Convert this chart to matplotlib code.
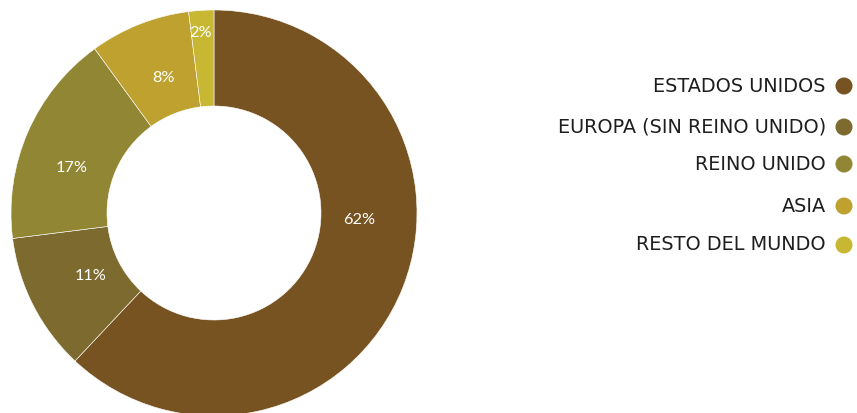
import matplotlib
matplotlib.use("Agg")
import matplotlib.pyplot as plt
import numpy as np

categories = ["ESTADOS UNIDOS", "EUROPA (SIN REINO UNIDO)", "REINO UNIDO", "ASIA", "RESTO DEL MUNDO"]
values = [62, 11, 17, 8, 2]
colors = ["#785322", "#7d6a2f", "#918634", "#bea12f", "#c7b733"]

W, H = 857, 413
fig = plt.figure(figsize=(W / 100, H / 100), dpi=100)
ax = fig.add_axes([0, 0, 1, 1])

cx, cy, R = 214, 200, 203
hole = 107
wedges, _ = ax.pie(values, colors=colors, startangle=90, counterclock=False,
                   center=(cx, cy), radius=R, frame=True,
                   wedgeprops=dict(width=R - hole, edgecolor="white", linewidth=0.4))
ax.set_xlim(0, W)
ax.set_ylim(0, H)
ax.set_aspect("equal")
ax.axis("off")

# label placement (radius fraction, angle tweak in degrees)
label_r = [0.715, 0.68, 0.735, 0.71, 0.89]
label_dang = [18.8, 0, 5.8, -1, 0.8]
for w, v, rf, da in zip(wedges, values, label_r, label_dang):
    ang = np.deg2rad((w.theta1 + w.theta2) / 2 + da)
    ax.text(cx + rf * R * np.cos(ang), cy + rf * R * np.sin(ang), f"{v}%",
            ha="center", va="center", color="white", fontsize=11.8,
            family="Lato", zorder=10)

# legend
leg_y = [H - 86, H - 127, H - 164, H - 206, H - 245]
for cat, col, y in zip(categories, colors, leg_y):
    ax.text(826, y, cat, ha="right", va="center", fontsize=13.9,
            family="DejaVu Sans", color="#1e1e1e")
    ax.scatter([844], [y], s=150, color=col, edgecolors="none")

fig.savefig("out.png", dpi=100)
